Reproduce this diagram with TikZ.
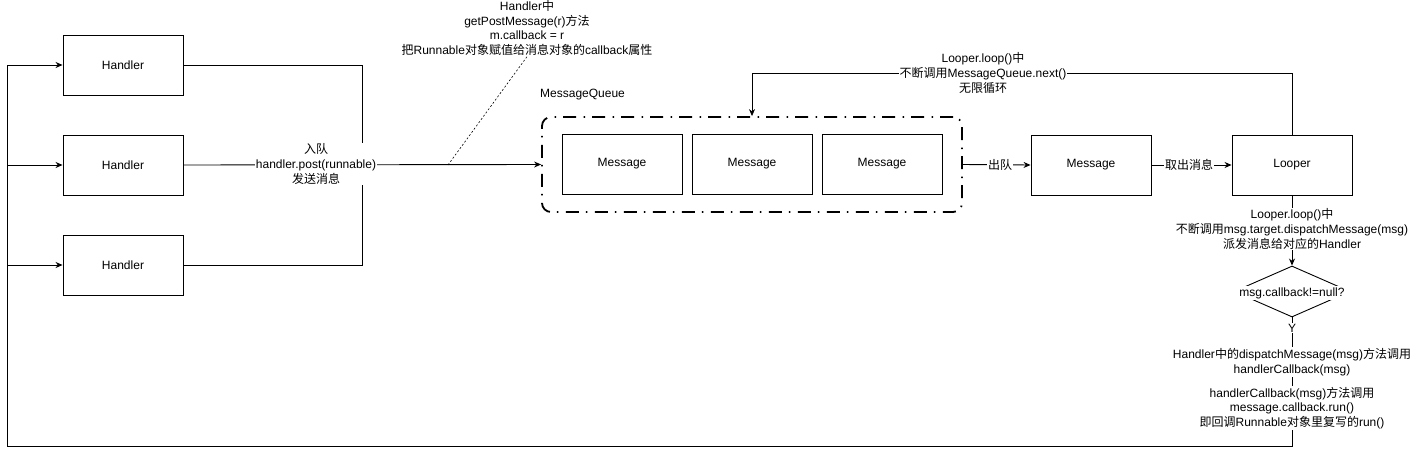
\documentclass[tikz,border=0pt]{standalone}
\usepackage{fontspec}
\setmainfont{Liberation Sans}
\newfontfamily\cjk{Noto Sans CJK SC}
\newcommand\zh[1]{{\cjk #1}}
\usetikzlibrary{arrows.meta,shapes.geometric}
\begin{document}
\begin{tikzpicture}[x=1pt,y=-1pt,
  every node/.style={font=\fontsize{12}{14.6}\selectfont},
  boxnode/.style={draw,line width=0.9pt,minimum width=120pt,minimum height=60pt,inner sep=0pt},
  wire/.style={line width=0.9pt},
  arr/.style={wire,-{Stealth[length=7pt,width=6pt]}},
  lbl/.style={fill=white,align=center,inner sep=1pt},
  queue/.style={draw,line width=1.8pt,rounded corners=9pt,dash pattern=on 13pt off 7pt on 1.5pt off 7.5pt,minimum width=420pt,minimum height=95pt,inner sep=0pt}
]
\useasboundingbox (0,0) rectangle (1411,455);
% Handlers
\node[boxnode] (h1) at (123,65) {Handler};
\node[boxnode] (h2) at (123,165) {Handler};
\node[boxnode] (h3) at (123,265) {Handler};
% Message queue
\node[queue] (mq) at (752,164.5) {};
\node[anchor=west,inner sep=0pt] (mql) at (540,95) {MessageQueue};
\node[boxnode] (m1) at (622,164) {Message};
\node[boxnode] (m2) at (752,164) {Message};
\node[boxnode] (m3) at (882,164) {Message};
\node[boxnode] (m4) at (1091,165) {Message};
\node[boxnode] (lp) at (1292,165) {Looper};
\node[draw,diamond,line width=0.9pt,minimum width=116pt,minimum height=51pt,inner sep=0pt] (d) at (1292,291.5) {};
\node[fill=white,inner xsep=7pt,inner ysep=1.5pt] (dt) at (1292,293) {msg.callback!=null?};
% coordinates
\coordinate (j) at (362,165);
\coordinate (top) at (1292,73);
\coordinate (br) at (1292,446);
\coordinate (bl) at (7,446);
\coordinate (l1) at (7,65);
\coordinate (l2) at (7,165);
\coordinate (l3) at (7,265);
\coordinate (ds) at (448,165);
% left group
\draw[wire] (h1.east) -| (j);
\draw[wire] (h3.east) -| (j);
\draw[arr] (h2.east) -- (mq.west);
\node[lbl] (enq) at (316,164) {\zh{入队}\\handler.post(runnable)\\\zh{发送消息}};
% note
\node[align=center,inner sep=1pt] (note) at (527,28) {Handler\zh{中}\\getPostMessage(r)\zh{方法}\\m.callback = r\\\zh{把}Runnable\zh{对象赋值给消息对象的}callback\zh{属性}};
\draw[line width=0.6pt,dash pattern=on 2pt off 2pt] (ds) -- (note.south);
% queue out
\draw[arr] (mq.east) -- (m4.west);
\node[lbl] (deq) at (1000,165) {\zh{出队}};
\draw[arr] (m4.east) -- (lp.west);
\node[lbl] (take) at (1189,165) {\zh{取出消息}};
% loop
\draw[arr] (lp.north) -- (top) -| (mq.north);
\node[lbl] (loopl) at (983,73) {Looper.loop()\zh{中}\\\zh{不断调用}MessageQueue.next()\\\zh{无限循环}};
% dispatch
\draw[arr] (lp.south) -- (d.north);
\node[lbl] (disp) at (1292,229) {Looper.loop()\zh{中}\\\zh{不断调用}msg.target.dispatchMessage(msg)\\\zh{派发消息给对应的}Handler};
% back to handlers
\draw[arr] (d.south) -- (br) -- (bl) -- (l1) -- (h1.west);
\draw[arr] (l2) -- (h2.west);
\draw[arr] (l3) -- (h3.west);
\node[lbl] (yes) at (1292,328) {Y};
\node[lbl] (hcall) at (1292,362) {Handler\zh{中的}dispatchMessage(msg)\zh{方法调用}\\handlerCallback(msg)};
\node[lbl] (run) at (1292,408) {handlerCallback(msg)\zh{方法调用}\\message.callback.run()\\\zh{即回调}Runnable\zh{对象里复写的}run()};
\end{tikzpicture}
\end{document}
